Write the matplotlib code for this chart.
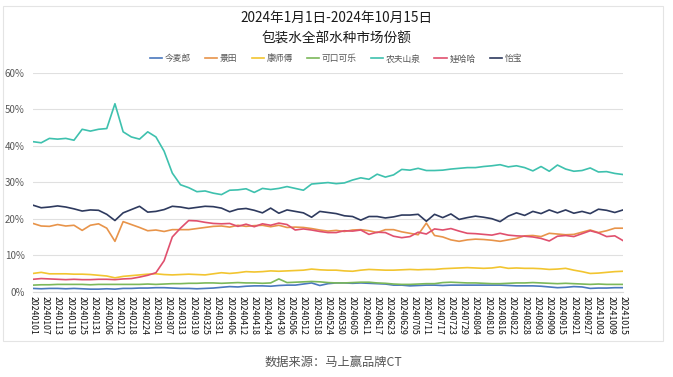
import matplotlib
matplotlib.use("Agg")
import matplotlib.pyplot as plt
import matplotlib.patches as mpatches
import numpy as np
import pandas as pd

plt.rcParams['font.family'] = ['Noto Sans CJK SC', 'DejaVu Sans']

# sampled every 4 days from 2024-01-01 to 2024-10-15
sample_days = np.arange(0, 289, 4)

jinmailang = [0.9, 0.8, 0.9, 0.9, 0.8, 0.9, 0.8, 0.7, 0.7, 0.8, 0.7, 0.9, 0.9, 1.0, 1.0, 1.1, 1.1, 1.0, 0.9,
              0.9, 0.8, 0.9, 1.0, 1.2, 1.4, 1.3, 1.5, 1.6, 1.6, 1.5, 1.7, 1.8, 1.8, 2.1, 2.4, 1.7, 2.2, 2.4,
              2.4, 2.3, 2.4, 2.3, 2.2, 2.1, 1.8, 1.8, 1.6, 1.7, 1.8, 1.8, 1.7, 1.8, 1.8, 1.8, 1.8, 1.8, 1.8,
              1.8, 1.7, 1.6, 1.6, 1.6, 1.5, 1.3, 1.1, 1.2, 1.4, 1.3, 0.9, 1.0, 1.0, 1.1, 1.1]
jingtian = [18.7, 18.0, 17.9, 18.4, 18.0, 18.2, 16.8, 18.2, 18.6, 17.4, 13.8, 19.2, 18.4, 17.6, 16.7, 16.9,
            16.5, 17.0, 17.0, 17.0, 17.3, 17.6, 17.9, 18.0, 17.7, 18.2, 17.9, 18.1, 18.2, 17.8, 18.2, 17.6,
            17.7, 17.6, 17.3, 16.9, 16.6, 16.8, 16.5, 16.9, 17.0, 16.7, 16.2, 17.0, 17.0, 16.4, 16.0, 15.6,
            18.8, 15.4, 15.0, 14.2, 13.8, 14.2, 14.4, 14.3, 14.1, 13.8, 14.2, 14.6, 15.3, 15.4, 15.1, 16.0,
            15.8, 15.6, 15.7, 16.3, 16.9, 16.2, 16.7, 17.4, 17.4]
kangshifu = [5.0, 5.3, 4.9, 4.9, 4.9, 4.8, 4.8, 4.7, 4.5, 4.3, 3.8, 4.2, 4.4, 4.6, 4.8, 4.9, 4.7, 4.6, 4.7,
             4.8, 4.7, 4.6, 4.9, 5.2, 5.0, 5.2, 5.5, 5.4, 5.5, 5.7, 5.6, 5.7, 5.8, 5.9, 6.2, 6.0, 5.9, 5.9,
             5.7, 5.6, 5.9, 6.1, 6.0, 5.9, 5.9, 6.0, 6.1, 6.0, 6.1, 6.1, 6.3, 6.4, 6.5, 6.6, 6.5, 6.4, 6.5,
             6.8, 6.4, 6.5, 6.4, 6.4, 6.3, 6.1, 6.2, 6.4, 5.9, 5.5, 5.0, 5.1, 5.3, 5.5, 5.6]
kekoukele = [1.8, 1.9, 1.9, 2.0, 2.0, 2.0, 2.0, 1.9, 2.0, 2.0, 2.0, 2.0, 2.0, 2.0, 2.1, 2.0, 2.1, 2.2, 2.2,
             2.3, 2.3, 2.4, 2.4, 2.3, 2.4, 2.5, 2.4, 2.4, 2.3, 2.4, 3.5, 2.5, 2.6, 2.7, 2.8, 2.7, 2.5, 2.4,
             2.4, 2.5, 2.6, 2.6, 2.4, 2.3, 2.1, 2.0, 2.0, 2.1, 2.2, 2.2, 2.5, 2.6, 2.5, 2.4, 2.4, 2.3, 2.2,
             2.2, 2.3, 2.4, 2.4, 2.5, 2.4, 2.3, 2.2, 2.3, 2.2, 2.1, 2.0, 2.1, 2.0, 2.0, 2.0]
nongfu = [41.1, 40.8, 42.0, 41.8, 42.0, 41.5, 44.5, 44.0, 44.5, 44.7, 51.5, 43.8, 42.4, 41.8, 43.8, 42.4,
          38.5, 32.5, 29.3, 28.5, 27.4, 27.6, 27.0, 26.6, 27.8, 27.9, 28.2, 27.2, 28.3, 28.0, 28.3, 28.8,
          28.3, 27.8, 29.5, 29.7, 29.9, 29.6, 29.8, 30.6, 31.2, 30.8, 32.2, 31.4, 32.0, 33.5, 33.3, 33.8,
          33.2, 33.2, 33.3, 33.6, 33.8, 34.0, 34.0, 34.3, 34.5, 34.8, 34.2, 34.5, 34.0, 33.1, 34.3, 33.0,
          34.7, 33.6, 33.0, 33.2, 33.9, 32.8, 32.9, 32.4, 32.1]
wahaha = [3.4, 3.6, 3.5, 3.4, 3.3, 3.4, 3.3, 3.3, 3.4, 3.4, 3.3, 3.5, 3.6, 4.0, 4.5, 5.2, 8.5, 15.0, 17.4,
          19.5, 19.4, 19.0, 18.7, 18.6, 18.7, 17.9, 18.5, 17.8, 18.6, 18.2, 18.8, 18.4, 16.9, 17.2, 16.9,
          16.5, 16.2, 16.2, 16.7, 16.6, 16.9, 15.7, 16.3, 16.2, 15.2, 14.8, 15.1, 16.3, 15.8, 17.2, 16.9,
          17.3, 16.6, 16.0, 15.9, 15.7, 15.5, 16.0, 15.5, 15.3, 15.2, 15.0, 14.6, 13.9, 15.2, 15.4, 15.1,
          15.9, 16.7, 16.1, 15.1, 15.3, 14.0]
yibao = [23.7, 23.0, 23.2, 23.5, 23.2, 22.7, 22.1, 22.4, 22.3, 21.2, 19.5, 21.6, 22.5, 23.4, 21.8, 22.0,
         22.5, 23.4, 23.2, 22.8, 23.1, 23.4, 23.3, 22.9, 21.9, 22.6, 22.8, 22.3, 21.6, 22.9, 21.5, 22.4,
         22.0, 21.6, 20.4, 22.0, 21.7, 21.4, 20.8, 20.6, 19.6, 20.6, 20.6, 20.2, 20.5, 21.0, 21.0, 21.2,
         19.3, 21.2, 20.3, 21.3, 19.8, 20.3, 20.7, 20.4, 20.0, 19.2, 20.7, 21.6, 20.9, 22.0, 21.4, 22.4,
         21.6, 22.4, 21.5, 22.0, 21.4, 22.6, 22.3, 21.7, 22.4]

brands = ['今麦郎', '景田', '康师傅', '可口可乐', '农夫山泉', '娃哈哈', '怡宝']
series = [jinmailang, jingtian, kangshifu, kekoukele, nongfu, wahaha, yibao]
colors = ['#4A78BE', '#E8944A', '#F2C530', '#7CB85A', '#3EC1AE', '#E0506E', '#2E3A5E']

start = pd.Timestamp('2024-01-01')
tick_days = np.arange(0, 289, 6)
tick_labels = [(start + pd.Timedelta(days=int(d))).strftime('%Y%m%d') for d in tick_days]

fig = plt.figure(figsize=(6.73, 3.77), dpi=100)
fig.patches.append(mpatches.Rectangle((3 / 673, 36 / 377), 660 / 673, 335 / 377,
                                      transform=fig.transFigure, fill=False,
                                      edgecolor='#e4e4e4', linewidth=0.8))

ax = fig.add_axes([33 / 673, 85.3 / 377, 590 / 673, 219 / 377])
for name, vals, c in zip(brands, series, colors):
    ax.plot(sample_days, np.array(vals) / 100, color=c, linewidth=1.2, label=name)

ax.set_xlim(0, 288)
ax.set_ylim(0, 0.6)
ax.set_yticks(np.arange(0, 0.61, 0.1))
ax.set_yticklabels([f"{int(round(v * 100))}%" for v in np.arange(0, 0.61, 0.1)],
                   fontsize=7, color='#595959')
ax.set_xticks(tick_days)
ax.set_xticklabels(tick_labels, rotation=270, fontsize=6.3, color='#111111')
ax.tick_params(axis='x', length=0, pad=3)
ax.tick_params(axis='y', length=0, pad=6)
ax.grid(axis='y', color='#e0e0e0', linewidth=0.8)
ax.set_axisbelow(True)
for s in ['top', 'right', 'left']:
    ax.spines[s].set_visible(False)
ax.spines['bottom'].set_color('#d9d9d9')

fig.text(336 / 673, 1 - 18 / 377, '2024年1月1日-2024年10月15日', ha='center', va='center',
         fontsize=9.8, color='#1a1a1a')
fig.text(336 / 673, 1 - 39 / 377, '包装水全部水种市场份额', ha='center', va='center',
         fontsize=9.8, color='#1a1a1a')

fig.legend(loc='center', bbox_to_anchor=(336 / 673, 1 - 59 / 377), ncol=7, frameon=False,
           fontsize=6.3, handlelength=1.4, handletextpad=0.3, columnspacing=1.6,
           labelcolor='#555555')

fig.text(333 / 673, 1 - 362 / 377, '数据来源：马上赢品牌CT', ha='center', va='center',
         fontsize=8.8, color='#555555')

plt.savefig('out.png', dpi=100)
plt.close()
